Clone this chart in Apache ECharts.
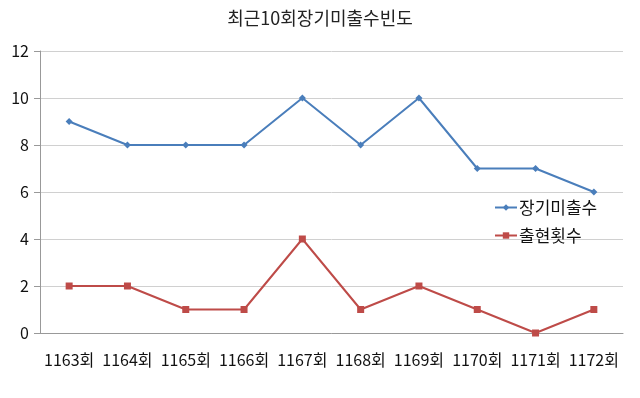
<!DOCTYPE html>
<html>
<head>
<meta charset="utf-8">
<script src="https://cdn.jsdelivr.net/npm/echarts@6/dist/echarts.min.js"></script>
<style>
  html, body { margin: 0; padding: 0; background: #fff; }
  #chart { width: 640px; height: 398px; }
</style>
</head>
<body>
<div id="chart"></div>
<script>
const categories = ['1163회', '1164회', '1165회', '1166회', '1167회', '1168회', '1169회', '1170회', '1171회', '1172회']
const missCounts = [9, 8, 8, 8, 10, 8, 10, 7, 7, 6]
const appearCounts = [2, 2, 1, 1, 4, 1, 2, 1, 0, 1]

const font = "'Noto Sans CJK KR', 'Noto Sans', sans-serif"
const chart = echarts.init(document.getElementById('chart'), null, { renderer: 'canvas' })

chart.setOption({
  animation: false,
  textStyle: { fontFamily: font },
  title: {
    text: '최근10회장기미출수빈도',
    left: 'center',
    top: 4,
    textStyle: { fontFamily: font, fontSize: 18, fontWeight: 'normal', color: '#222' }
  },
  legend: {
    orient: 'vertical',
    left: 489,
    top: 194,
    itemGap: 11,
    itemWidth: 22,
    itemHeight: 8,
    textStyle: { fontFamily: font, fontSize: 17, color: '#111', padding: [0, 0, 0, -3] },
    data: ['장기미출수', '출현횟수']
  },
  grid: { left: 40, right: 17, top: 51, bottom: 65 },
  xAxis: {
    type: 'category',
    data: categories,
    boundaryGap: true,
    axisLine: { lineStyle: { color: '#999' } },
    axisTick: { length: 6, lineStyle: { color: '#999' } },
    axisLabel: { fontFamily: font, fontSize: 16, color: '#111', margin: 19, interval: 0 }
  },
  yAxis: {
    type: 'value',
    min: 0,
    max: 12,
    interval: 2,
    axisLine: { show: true, lineStyle: { color: '#999' } },
    axisTick: { show: true, length: 6, lineStyle: { color: '#999' } },
    axisLabel: { fontFamily: font, fontSize: 16, color: '#111', margin: 11 },
    splitLine: { lineStyle: { color: '#d0d0d0', width: 1 } }
  },
  series: [
    {
      name: '장기미출수',
      type: 'line',
      data: missCounts,
      symbol: 'diamond',
      symbolSize: 7,
      lineStyle: { color: '#4A7EBB', width: 2 },
      itemStyle: { color: '#4A7EBB' }
    },
    {
      name: '출현횟수',
      type: 'line',
      data: appearCounts,
      symbol: 'rect',
      symbolSize: 7,
      lineStyle: { color: '#BE4B48', width: 2 },
      itemStyle: { color: '#BE4B48' }
    }
  ]
})
</script>
</body>
</html>
